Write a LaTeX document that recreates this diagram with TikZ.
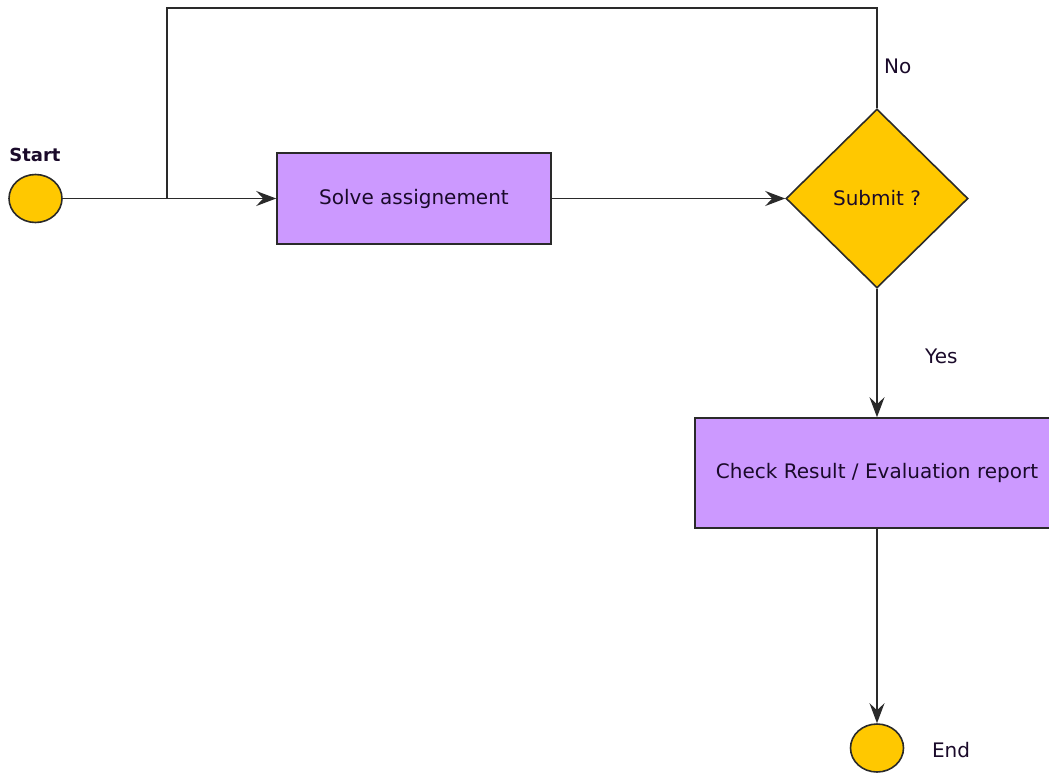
\documentclass[tikz,border=0pt]{standalone}
\usepackage{fontspec}
\setmainfont{DejaVu Sans}
\usetikzlibrary{shapes.geometric,arrows.meta}
\definecolor{cyel}{HTML}{FFC800}
\definecolor{cpur}{HTML}{CC99FF}
\definecolor{cline}{HTML}{2A2A2A}
\definecolor{ctext}{HTML}{1A0A2A}
\begin{document}
\begin{tikzpicture}[x=1pt,y=-1pt,
  every node/.style={font=\fontsize{20}{24}\selectfont, text=ctext},
  term/.style={ellipse, draw=cline, line width=1.6pt, fill=cyel, minimum width=53pt, minimum height=48pt, inner sep=0pt},
  proc/.style={rectangle, draw=cline, line width=1.6pt, fill=cpur, inner sep=0pt},
  dec/.style={diamond, draw=cline, line width=1.6pt, fill=cyel, minimum width=182pt, minimum height=179pt, inner sep=0pt, aspect=1.02},
  conn/.style={draw=cline, line width=1.6pt},
  arr/.style={conn, -{Stealth[length=20pt,width=15pt,inset=7pt]}},
  lbl/.style={inner sep=0pt}
]
\useasboundingbox (0,0) rectangle (1049,774);
\node[term] (start) at (35.5,198.5) {};
\node[lbl, anchor=base] (startlbl) at (35,161) {\bfseries\fontsize{18}{22}\selectfont Start};
\node[proc, minimum width=274pt, minimum height=91pt] (solve) at (414,198.5) {Solve assignement};
\node[dec] (sub) at (877,198.5) {Submit ?};
\node[proc, minimum width=364pt, minimum height=110pt] (check) at (877,473) {Check Result / Evaluation report};
\node[term] (end) at (877,748) {};
\node[lbl, anchor=base] (endlbl) at (951,757) {End};
\coordinate (j) at (167,198.5);
\coordinate (tl) at (167,8);
\coordinate (tr) at (877,8);
\draw[conn] (start.east) -- (j);
\draw[arr] (j) -- (solve.west);
\draw[arr] (solve.east) -- (sub.west);
\draw[conn] (sub.north) -- (tr) -- (tl) -- (j);
\node[lbl, anchor=base west] (no) at (884,73) {No};
\draw[arr] (sub.south) -- (check.north);
\node[lbl, anchor=base west] (yes) at (925,363) {Yes};
\draw[arr] (check.south) -- (end.north);
\end{tikzpicture}
\end{document}
